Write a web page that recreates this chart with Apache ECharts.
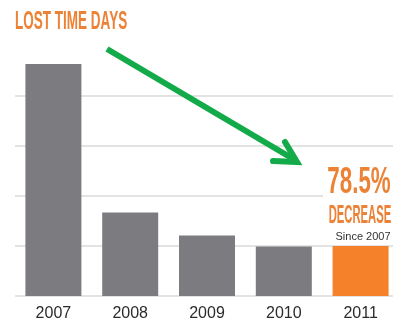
<!DOCTYPE html>
<html>
<head>
<meta charset="utf-8">
<script src="https://cdn.jsdelivr.net/npm/echarts@6/dist/echarts.min.js"></script>
<style>html,body{margin:0;padding:0;background:#fff}#c{width:399px;height:327px}</style>
</head>
<body>
<div id="c"></div>
<script>
const categories = ['2007', '2008', '2009', '2010', '2011'];
const lostTimeDays = [4.64, 1.67, 1.21, 0.99, 1.0];
const yTicks = [0, 1, 2, 3, 4, 5];
const titleText = 'LOST TIME DAYS';
const bigText = '78.5%';
const midText = 'DECREASE';
const smallText = 'Since 2007';

const GRAY = '#7c7b7f';
const ORANGE = '#f5822b';
const TXT_ORANGE = '#ec8236';
const GREEN = '#13ab4a';

const chart = echarts.init(document.getElementById('c'), null, {renderer: 'canvas'});
chart.setOption({
  animation: false,
  backgroundColor: '#fff',
  grid: {left: 15, width: 386, top: 46, bottom: 31, containLabel: false},
  xAxis: {
    type: 'category',
    data: categories,
    axisLine: {show: false},
    axisTick: {show: false},
    axisLabel: {fontSize: 16, color: '#2b2b2b', margin: 10, fontFamily: 'Liberation Sans, Arial, sans-serif'}
  },
  yAxis: {
    type: 'value',
    min: yTicks[0],
    max: yTicks[yTicks.length - 1],
    interval: 1,
    axisLabel: {show: false},
    axisLine: {show: false},
    axisTick: {show: false},
    splitLine: {show: true, showMaxLine: false, lineStyle: {color: '#dadada', width: 1.5}}
  },
  series: [{
    type: 'bar',
    data: lostTimeDays,
    barWidth: 56,
    itemStyle: {color: p => p.dataIndex === categories.length - 1 ? ORANGE : GRAY}
  }],
  graphic: [
    {type: 'rect', z: 100, shape: {x: 393, y: 80, width: 10, height: 220}, style: {fill: '#fff'}},
    {type: 'rect', z: 100, shape: {x: 323, y: 164, width: 80, height: 70}, style: {fill: '#fff'}},
    {type: 'text', z: 110, x: 15, y: 22, scaleX: 0.52,
      style: {text: titleText, font: 'bold 26px "Liberation Sans", Arial, sans-serif', fill: TXT_ORANGE, align: 'left', verticalAlign: 'middle'}},
    {type: 'text', z: 110, x: 359, y: 183, scaleX: 0.62,
      style: {text: bigText, font: 'bold 36px "Liberation Sans", Arial, sans-serif', fill: TXT_ORANGE, align: 'center', verticalAlign: 'middle'}},
    {type: 'text', z: 110, x: 360, y: 216.5, scaleX: 0.45,
      style: {text: midText, font: 'bold 25px "Liberation Sans", Arial, sans-serif', fill: TXT_ORANGE, align: 'center', verticalAlign: 'middle'}},
    {type: 'text', z: 110, x: 363, y: 237,
      style: {text: smallText, font: '11px "Liberation Sans", Arial, sans-serif', fill: '#333', align: 'center', verticalAlign: 'middle'}},
    {type: 'line', z: 120, shape: {x1: 107, y1: 49, x2: 295, y2: 160}, style: {stroke: GREEN, lineWidth: 6, lineCap: 'butt'}},
    {type: 'polyline', z: 120, shape: {points: [[285, 142], [297, 162], [273, 161]]}, style: {stroke: GREEN, lineWidth: 6, lineJoin: 'miter', lineCap: 'round', fill: null}}
  ]
});
</script>
</body>
</html>
